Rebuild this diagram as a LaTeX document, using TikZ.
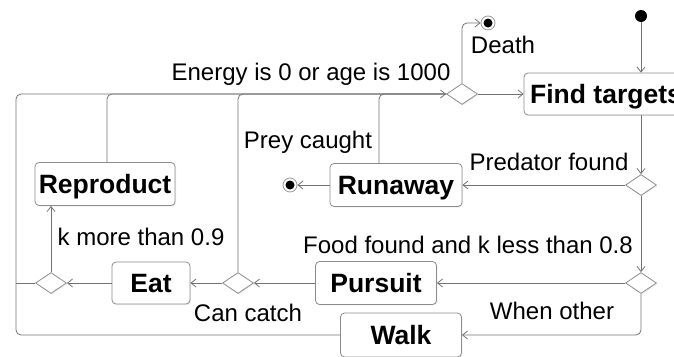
\documentclass[tikz,border=0pt]{standalone}
\usepackage{fontspec}
\setmainfont{Liberation Sans}
\usetikzlibrary{shapes.geometric,arrows.meta,shadows}

\begin{document}
\begin{tikzpicture}[x=1pt, y=-1pt,
  act/.style={draw=black!45, line width=0.8pt, rounded corners=4pt, fill=white,
    drop shadow={shadow xshift=1.2pt, shadow yshift=-1.2pt, fill=black!12},
    inner sep=0pt, text height=19pt, text depth=0pt,
    font=\fontsize{26.5}{30}\selectfont\bfseries},
  dec/.style={diamond, draw=black!45, line width=0.8pt, fill=white,
    drop shadow={shadow xshift=1.2pt, shadow yshift=-1.2pt, fill=black!12},
    minimum width=31pt, minimum height=21pt, inner sep=0pt},
  flow/.style={draw=black!55, line width=0.8pt, -{Straight Barb[length=5pt,width=8pt]}},
  mergeline/.style={draw=black!55, line width=0.8pt},
  lbl/.style={anchor=base, inner sep=0pt, font=\fontsize{24}{28}\selectfont},
  startnode/.style={circle, fill=black, minimum size=12pt, inner sep=0pt},
  endnode/.style={circle, draw=black!40, line width=0.8pt, fill=white, minimum size=14pt, inner sep=0pt,
    path picture={\fill[black] (path picture bounding box.center) circle (4.5pt);}}]
\useasboundingbox (0,0) rectangle (674,356);

% start and end points
\node[startnode] (start) at (641,16) {};
\node[endnode] (death) at (488,23) {};
\node[endnode] (caught) at (290,185) {};

% activities
\node[act, minimum width=164pt, minimum height=42pt] (find) at (606,94) {Find targets};
\node[act, minimum width=140pt, minimum height=43pt] (repro) at (105,184) {Reproduct};
\node[act, minimum width=132pt, minimum height=43pt] (runaway) at (396,185) {Runaway};
\node[act, minimum width=78pt, minimum height=42pt] (eat) at (151,283) {Eat};
\node[act, minimum width=121pt, minimum height=43pt] (pursuit) at (376,283) {Pursuit};
\node[act, minimum width=121pt, minimum height=44pt] (walk) at (401,335) {Walk};

% decisions
\node[dec] (d0) at (462,94) {};
\node[dec] (d1) at (641,185) {};
\node[dec] (d2) at (641,283) {};
\node[dec] (d3) at (238,283) {};
\node[dec] (d4) at (51,283) {};

\coordinate (lc) at (16,94);

% flows
\draw[flow] (start) -- (find.north -| start);
\draw[flow] (find.south -| d1) -- (d1.north);
\draw[flow] (d1.west) -- (runaway.east);
\draw[flow] (runaway.west) -- (caught.east);
\draw[flow] (d1.south) -- (d2.north);
\draw[flow] (d2.west) -- (pursuit.east);
\draw[flow, rounded corners=5pt] (d2.south) |- (walk.east);
\draw[flow] (pursuit.west) -- (d3.east);
\draw[flow] (d3.west) -- (eat.east);
\draw[flow] (eat.west) -- (d4.east);
\draw[flow] (d4.north) -- (repro.south -| d4);
\draw[mergeline] (d4.west) -- (d4.west -| lc);
\draw[flow, rounded corners=5pt] (walk.west) -| (lc) -- (d0.west);
\draw[mergeline, rounded corners=5pt] ([xshift=2pt]repro.north) |- (d0.west);
\draw[mergeline, rounded corners=5pt] ([xshift=-17pt]runaway.north) |- (d0.west);
\draw[mergeline, rounded corners=5pt] (d3.north) |- (d0.west);
\draw[flow] (d0.east) -- (find.west);
\draw[flow, rounded corners=5pt] (d0.north) |- (death.west);

% guards
\node[lbl] (gEnergy) at (311,80.5) {Energy is 0 or age is 1000};
\node[lbl] (gDeath) at (503,53.5) {Death};
\node[lbl] (gPrey) at (308,148) {Prey caught};
\node[lbl] (gPredator) at (549,170.5) {Predator found};
\node[lbl] (gMore) at (141,245.5) {k more than 0.9};
\node[lbl] (gFood) at (468,253.5) {Food found and k less than 0.8};
\node[lbl] (gCatch) at (248,321.5) {Can catch};
\node[lbl] (gOther) at (552,319.5) {When other};
\end{tikzpicture}
\end{document}
